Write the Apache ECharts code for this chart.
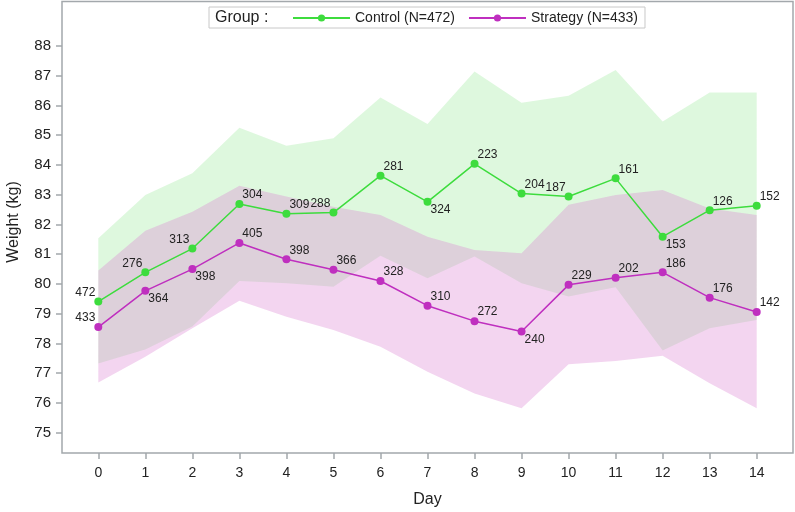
<!DOCTYPE html>
<html>
<head>
<meta charset="utf-8">
<script src="https://cdn.jsdelivr.net/npm/echarts@6/dist/echarts.min.js"></script>
<style>
  html, body { margin: 0; padding: 0; background: #fff; }
  #chart { width: 795px; height: 512px; }
</style>
</head>
<body>
<div id="chart"></div>
<script>
  // data
  const days = ['0', '1', '2', '3', '4', '5', '6', '7', '8', '9', '10', '11', '12', '13', '14'];

  const controlMean = [79.41, 80.39, 81.19, 82.69, 82.36, 82.40, 83.64, 82.76, 84.04, 83.04, 82.94, 83.55, 81.59, 82.48, 82.63];
  const controlUpper = [81.54, 82.99, 83.72, 85.25, 84.65, 84.90, 86.27, 85.38, 87.14, 86.09, 86.33, 87.19, 85.46, 86.44, 86.44];
  const controlLower = [77.33, 77.80, 78.57, 80.10, 80.02, 79.91, 80.95, 80.19, 80.92, 80.02, 79.58, 79.89, 77.76, 78.51, 78.79];
  const controlN = [472, 276, 313, 304, 309, 288, 281, 324, 223, 204, 187, 161, 153, 126, 152];

  const strategyMean = [78.55, 79.77, 80.50, 81.38, 80.83, 80.48, 80.10, 79.27, 78.75, 78.40, 79.97, 80.21, 80.39, 79.54, 79.06];
  const strategyUpper = [80.45, 81.79, 82.43, 83.30, 82.94, 82.60, 82.32, 81.59, 81.14, 81.03, 82.66, 82.99, 83.16, 82.54, 82.32];
  const strategyLower = [76.69, 77.55, 78.51, 79.44, 78.90, 78.45, 77.89, 77.05, 76.32, 75.82, 77.30, 77.41, 77.59, 76.66, 75.82];
  const strategyN = [433, 364, 398, 405, 398, 366, 328, 310, 272, 240, 229, 202, 186, 176, 142];

  // where each count label sits: l = above left, r = above right, d = below right
  const controlLabelSide = ['l', 'l', 'l', 'r', 'r', 'l', 'r', 'd', 'r', 'r', 'l', 'r', 'd', 'r', 'r'];
  const strategyLabelSide = ['l', 'd', 'd', 'r', 'r', 'r', 'r', 'r', 'r', 'd', 'r', 'r', 'r', 'r', 'r'];

  const GREEN = '#3ddc3d';
  const MAGENTA = '#bf2fbf';
  const FONT = '"Liberation Sans", Arial, sans-serif';
  const sideOffset = { l: [-13, -9], r: [13, -9], d: [13, 8] };

  function meanPoints(values, counts, sides) {
    return values.map((v, i) => ({
      value: v,
      label: {
        show: true,
        position: 'inside',
        offset: sideOffset[sides[i]],
        formatter: String(counts[i])
      }
    }));
  }

  function band(name, lower, upper, fill) {
    return [{
      name: name + ' lo',
      type: 'line',
      stack: name,
      data: lower,
      symbol: 'none',
      silent: true,
      lineStyle: { width: 0, opacity: 0 }
    }, {
      name: name + ' hi',
      type: 'line',
      stack: name,
      data: upper.map((u, i) => +(u - lower[i]).toFixed(2)),
      symbol: 'none',
      silent: true,
      lineStyle: { width: 0, opacity: 0 },
      areaStyle: { color: fill, opacity: 1 }
    }];
  }

  const chart = echarts.init(document.getElementById('chart'));
  chart.setOption({
    animation: false,
    textStyle: { fontFamily: FONT },
    graphic: [{
      type: 'rect',
      z: 0,
      shape: { x: 62, y: 1.5, width: 731, height: 451.5 },
      style: { fill: 'none', stroke: '#a3a8ac', lineWidth: 1.5 }
    }, {
      type: 'text',
      z: 100,
      left: 215,
      top: 10,
      style: { text: 'Group :', fontSize: 16, fontFamily: FONT, fill: '#222' }
    }, {
      type: 'text',
      x: 14,
      y: 222,
      rotation: Math.PI / 2,
      style: {
        text: 'Weight (kg)', fontSize: 16, fontFamily: FONT, fill: '#222',
        align: 'center', verticalAlign: 'middle'
      }
    }],
    legend: {
      data: ['Control (N=472)', 'Strategy (N=433)'],
      left: 209,
      top: 7,
      padding: [4, 7, 3, 83],
      borderColor: '#c8c8c8',
      borderWidth: 1,
      itemWidth: 57,
      itemHeight: 9,
      itemGap: 13,
      textStyle: { fontSize: 14, color: '#222', fontFamily: FONT }
    },
    grid: { left: 98.3, right: 38.3, top: 46, bottom: 79.3, outerBoundsMode: 'none', containLabel: false },
    xAxis: {
      type: 'category',
      data: days,
      boundaryGap: false,
      offset: 20.3,
      name: 'Day',
      nameLocation: 'middle',
      nameGap: 39,
      nameTextStyle: { fontSize: 16, color: '#222' },
      axisLine: { show: false },
      axisTick: { show: true, length: 6, lineStyle: { color: '#a3a8ac', width: 1.5 } },
      axisLabel: { fontSize: 14, color: '#222', margin: 13 },
      splitLine: { show: false }
    },
    yAxis: {
      type: 'value',
      min: 75,
      max: 88,
      interval: 1,
      offset: 36.3,
      axisLine: { show: false },
      axisTick: { show: true, length: 6, lineStyle: { color: '#a3a8ac', width: 1.5 } },
      axisLabel: { fontSize: 15, color: '#222', margin: 11 },
      splitLine: { show: false }
    },
    series: [
      ...band('ctrl', controlLower, controlUpper, 'rgba(0,200,0,0.13)'),
      ...band('strat', strategyLower, strategyUpper, 'rgba(219,129,210,0.333)'),
      {
        name: 'Control (N=472)',
        type: 'line',
        data: meanPoints(controlMean, controlN, controlLabelSide),
        symbol: 'circle',
        symbolSize: 8,
        itemStyle: { color: GREEN },
        lineStyle: { color: GREEN, width: 1.5 },
        label: { fontSize: 12, color: '#222' },
        z: 5
      },
      {
        name: 'Strategy (N=433)',
        type: 'line',
        data: meanPoints(strategyMean, strategyN, strategyLabelSide),
        symbol: 'circle',
        symbolSize: 8,
        itemStyle: { color: MAGENTA },
        lineStyle: { color: MAGENTA, width: 1.5 },
        label: { fontSize: 12, color: '#222' },
        z: 5
      }
    ]
  });
</script>
</body>
</html>
